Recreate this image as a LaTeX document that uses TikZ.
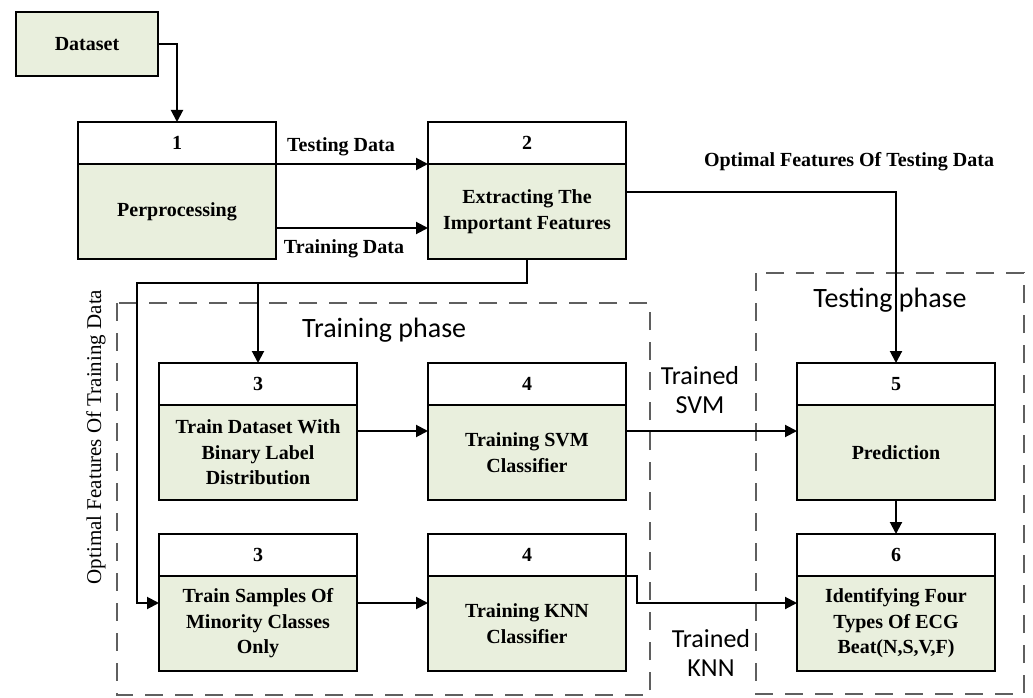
\documentclass[tikz,border=0pt]{standalone}
\usepackage{fontspec}
\setmainfont{Liberation Serif}
\newfontfamily\calib{Carlito}
\usetikzlibrary{arrows.meta,positioning,calc}
\definecolor{boxgreen}{RGB}{233,239,221}
\definecolor{dashgray}{RGB}{95,95,95}
\begin{document}
\begin{tikzpicture}[x=1pt,y=-1pt,
  hdr/.style={draw, line width=2pt, outer sep=0pt, fill=white, minimum width=198pt, minimum height=42pt, inner sep=0pt, font=\bfseries\fontsize{20}{24}\selectfont},
  bodyb/.style={draw, line width=2pt, outer sep=0pt, fill=boxgreen, minimum width=198pt, minimum height=95pt, inner sep=0pt, align=center, font=\bfseries\fontsize{20}{25.5}\selectfont},
  arr/.style={line width=2pt, -{Triangle[length=12pt,width=12pt]}},
  phase/.style={draw=dashgray, line width=1.3pt, dash pattern=on 18pt off 12pt},
  lbl/.style={font=\bfseries\fontsize{20}{24}\selectfont, inner sep=0pt},
  slbl/.style={font=\calib\fontsize{26}{29}\selectfont, inner sep=0pt, align=center},
  plbl/.style={font=\calib\fontsize{28}{30}\selectfont, inner sep=0pt}
]
\useasboundingbox (0,0) rectangle (1033,698);
% phases
\draw[phase] (117,303) rectangle (650,695);
\draw[phase] (756,273) rectangle (1024,694);
\node[plbl, anchor=west] (trp) at (302,330) {Training phase};
\node[plbl] (tsp) at (890,300) {Testing phase};
% dataset
\node[draw, line width=2pt, outer sep=0pt, fill=boxgreen, minimum width=142pt, minimum height=64pt, inner sep=0pt, font=\bfseries\fontsize{20}{24}\selectfont] (d) at (87,44) {Dataset};
% boxes
\node[hdr, anchor=north west] (h1) at (78,122) {1};
\node[bodyb, below=0pt of h1] (b1) {Perprocessing};
\node[hdr, anchor=north west] (h2) at (428,122) {2};
\node[bodyb, below=0pt of h2] (b2) {Extracting The\\Important Features};
\node[hdr, anchor=north west] (h3a) at (159,363) {3};
\node[bodyb, below=0pt of h3a] (b3a) {Train Dataset With\\Binary Label\\Distribution};
\node[hdr, anchor=north west] (h4a) at (428,363) {4};
\node[bodyb, below=0pt of h4a] (b4a) {Training SVM\\Classifier};
\node[hdr, anchor=north west] (h5) at (797,363) {5};
\node[bodyb, below=0pt of h5] (b5) {Prediction};
\node[hdr, anchor=north west] (h3b) at (159,534) {3};
\node[bodyb, below=0pt of h3b] (b3b) {Train Samples Of\\Minority Classes\\Only};
\node[hdr, anchor=north west] (h4b) at (428,534) {4};
\node[bodyb, below=0pt of h4b] (b4b) {Training KNN\\Classifier};
\node[hdr, anchor=north west] (h6) at (797,534) {6};
\node[bodyb, below=0pt of h6] (b6) {Identifying Four\\Types Of ECG\\Beat(N,S,V,F)};
% labels
\node[lbl] (ltest) at (341,147) {Testing Data};
\node[lbl] (ltrain) at (344,249) {Training Data};
\node[lbl] (lopt) at (849,162) {Optimal Features Of Testing Data};
\node[font=\fontsize{21}{24}\selectfont, inner sep=0pt, rotate=90] (lopttr) at (96,437) {Optimal Features Of Training Data};
\node[slbl] (lsvm) at (700,390) {Trained\\SVM};
\node[slbl] (lknn) at (711,653) {Trained\\KNN};
% connectors
\draw[arr] (d.east) -| (h1.north);
\draw[arr] (b1.north east) -- (b2.north west);
\draw[arr] ([yshift=-16.5pt]b1.east) -- ([yshift=-16.5pt]b2.west);
\coordinate (j1) at (137,283);
\draw[arr] (b2.south) |- (j1) |- ([yshift=20.5pt]b3b.west);
\draw[arr] (h3a.north |- j1) -- (h3a.north);
\draw[arr] ([yshift=21.5pt]b3a.east) -- ([yshift=21.5pt]b4a.west);
\draw[arr] ([yshift=20.5pt]b3b.east) -- ([yshift=20.5pt]b4b.west);
\draw[arr] ([yshift=21.5pt]b4a.east) -- ([yshift=21.5pt]b5.west);
\coordinate (k1) at (637,576);
\draw[arr] (b4b.north east) -- (k1) |- ([yshift=20.5pt]b6.west);
\draw[arr] ([yshift=20pt]b2.east) -| (h5.north);
\draw[arr] (b5.south) -- (h6.north);
\end{tikzpicture}
\end{document}
